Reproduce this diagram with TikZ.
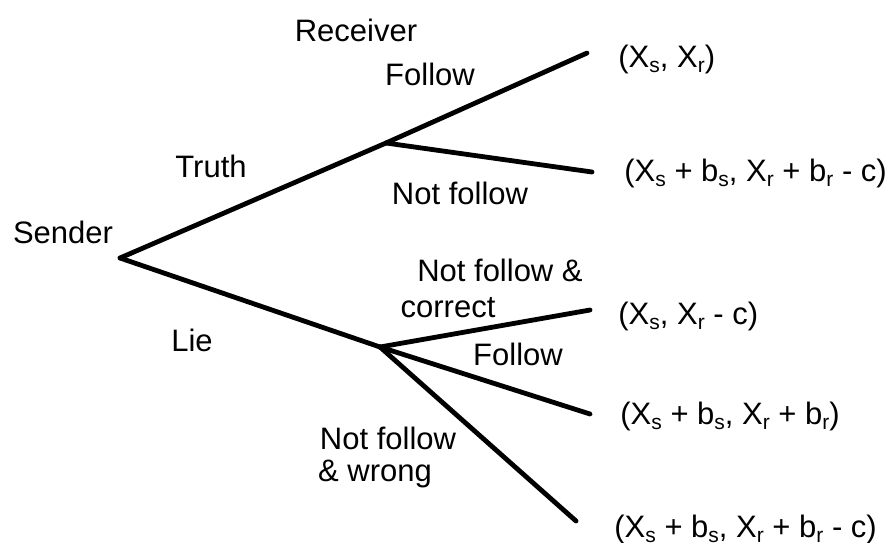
\documentclass[tikz,border=0pt]{standalone}
\usepackage{fontspec}
\setmainfont{Liberation Sans}
\newcommand{\lowsub}[1]{\raisebox{-0.35ex}{\fontsize{10.5}{11}\selectfont #1}}
\tikzset{
  branch/.style={line width=2.4pt, line cap=round},
  lbl/.style={font=\fontsize{15.5}{19}\selectfont, inner sep=0pt},
  payoff/.style={font=\fontsize{15.5}{19}\selectfont, inner sep=0pt, anchor=west}
}
\begin{document}
\begin{tikzpicture}[x=0.5pt,y=-0.5pt]
\useasboundingbox (0,0) rectangle (892,542);

% decision points
\coordinate (S) at (120,258);
\coordinate (R1) at (386,143);
\coordinate (R2) at (380,347);
\coordinate (t1) at (587,53);
\coordinate (t2) at (592,172);
\coordinate (t3) at (590,310);
\coordinate (t4) at (590,414);
\coordinate (t5) at (576,521);

\draw[branch] (S) -- (R1);
\draw[branch] (S) -- (R2);
\draw[branch] (R1) -- (t1);
\draw[branch] (R1) -- (t2);
\draw[branch] (R2) -- (t3);
\draw[branch] (R2) -- (t4);
\draw[branch] (R2) -- (t5);

% players and actions
\node[lbl] (sender) at (63,232) {Sender};
\node[lbl] (receiver) at (356,30) {Receiver};
\node[lbl] (truth) at (211,166) {Truth};
\node[lbl] (lie) at (192,340) {Lie};
\node[lbl] (follow1) at (430,74) {Follow};
\node[lbl] (notfollow1) at (460,193) {Not follow};
\node[lbl] (nfcorrect1) at (500,270) {Not follow \&};
\node[lbl] (nfcorrect2) at (448,308) {correct};
\node[lbl] (follow2) at (518,354) {Follow};
\node[lbl] (nfwrong1) at (388,438) {Not follow};
\node[lbl] (nfwrong2) at (375,474) {\& wrong};

% payoffs
\node[payoff] (p1) at (618,59) {(X\lowsub{s}, X\lowsub{r})};
\node[payoff] (p2) at (624,173) {(X\lowsub{s} + b\lowsub{s}, X\lowsub{r} + b\lowsub{r} - c)};
\node[payoff] (p3) at (618,316) {(X\lowsub{s}, X\lowsub{r} - c)};
\node[payoff] (p4) at (620,416) {(X\lowsub{s} + b\lowsub{s}, X\lowsub{r} + b\lowsub{r})};
\node[payoff] (p5) at (614,529) {(X\lowsub{s} + b\lowsub{s}, X\lowsub{r} + b\lowsub{r} - c)};
\end{tikzpicture}
\end{document}
